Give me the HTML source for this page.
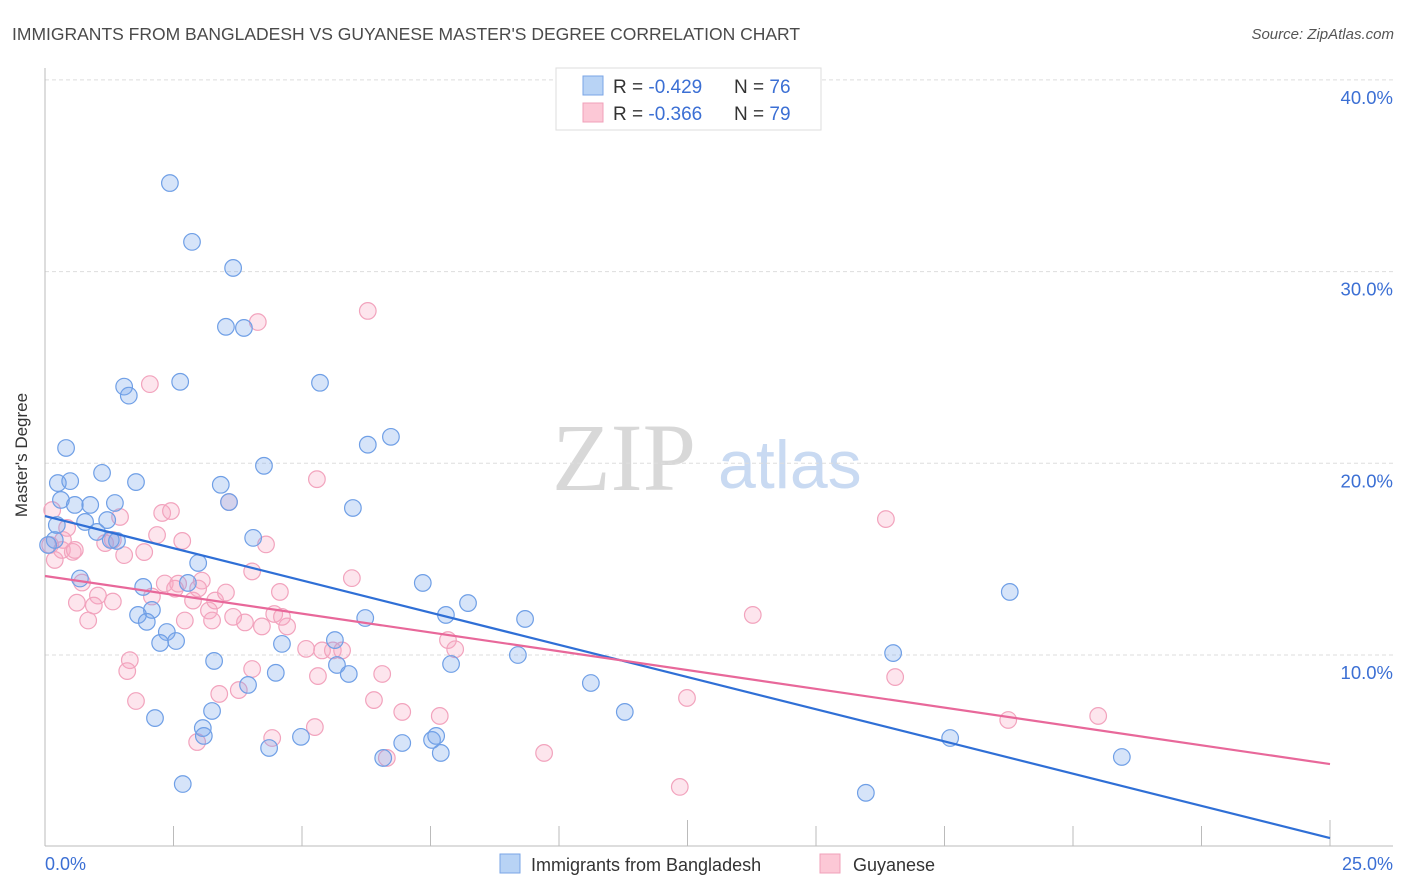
<!DOCTYPE html>
<html><head><meta charset="utf-8"><style>
body{margin:0;background:#fff;font-family:"Liberation Sans",sans-serif}
svg{display:block}
</style></head><body>
<svg id="chart" width="1406" height="892">
<text x="12" y="40" font-size="17.5" fill="#4a4a4a">IMMIGRANTS FROM BANGLADESH VS GUYANESE MASTER'S DEGREE CORRELATION CHART</text>
<text x="1394" y="39" font-size="15" fill="#555" font-style="italic" text-anchor="end">Source: ZipAtlas.com</text>
<g>
<text x="552" y="490" font-size="96" fill="#d8d8d8" font-family="Liberation Serif,serif">ZIP</text>
<text x="718" y="488" font-size="68" fill="#c9daf2">atlas</text>
</g>
<g id="grid"></g>
<line x1="45" y1="68" x2="45" y2="846" stroke="#bbb"/>
<line x1="45" y1="846" x2="1393" y2="846" stroke="#bbb"/>
<text x="27" y="455" font-size="17" fill="#333" text-anchor="middle" transform="rotate(-90 27 455)">Master's Degree</text>
<text x="45" y="870" font-size="18" fill="#3b6fd4">0.0%</text>
<text x="1393" y="870" font-size="18" fill="#3b6fd4" text-anchor="end">25.0%</text>
<g id="marks"></g>
<g>
<rect x="556" y="68" width="265" height="62" fill="#fff" stroke="#ddd"/>
<rect x="583" y="76" width="20" height="19" fill="#b8d3f5" stroke="#7aa5e6"/>
<rect x="583" y="103" width="20" height="19" fill="#fcc8d6" stroke="#f0a0ba"/>
<text x="613" y="93" font-size="19" fill="#333">R = <tspan fill="#3b6fd4">-0.429</tspan><tspan x="734">N = </tspan><tspan fill="#3b6fd4">76</tspan></text>
<text x="613" y="120" font-size="19" fill="#333">R = <tspan fill="#3b6fd4">-0.366</tspan><tspan x="734">N = </tspan><tspan fill="#3b6fd4">79</tspan></text>
</g>
<g>
<rect x="500" y="854" width="20" height="19" fill="#b8d3f5" stroke="#7aa5e6"/>
<text x="531" y="871" font-size="18" fill="#333">Immigrants from Bangladesh</text>
<rect x="820" y="854" width="20" height="19" fill="#fcc8d6" stroke="#f0a0ba"/>
<text x="853" y="871" font-size="18" fill="#333">Guyanese</text>
</g>
</svg>
<script>
const yTicks=[10,20,30,40];
const yTickLabels=["10.0%","20.0%","30.0%","40.0%"];
const xTicks=[0,2.5,5,7.5,10,12.5,15,17.5,20,22.5,25];
const blueX=[0.23,0.19,0.25,0.49,0.41,0.31,0.58,0.88,1.11,0.78,1.21,1.36,1.40,1.01,1.77,0.68,1.54,1.63,2.43,2.86,3.66,3.52,3.87,2.63,5.35,6.73,6.28,4.26,3.42,3.58,5.99,4.05,2.98,1.91,2.78,2.08,1.81,1.98,2.37,2.24,2.55,3.29,3.95,4.49,4.61,5.64,5.68,5.91,6.23,7.35,7.80,8.23,9.34,9.20,7.90,10.62,11.28,3.25,2.14,3.07,3.09,4.36,4.98,6.95,6.58,7.53,7.61,7.70,2.68,15.97,16.50,18.77,17.61,20.95,1.28,0.06];
const blueY=[16.78,16.0,18.97,19.07,20.8,18.09,17.83,17.83,19.5,16.94,17.04,17.93,15.95,16.42,19.02,13.99,24.0,23.53,34.62,31.55,30.19,27.12,27.06,24.25,24.2,21.38,20.97,19.87,18.88,17.98,17.67,16.11,14.8,13.55,13.76,12.35,12.09,11.73,11.2,10.63,10.73,9.69,8.44,9.07,10.58,10.78,9.48,9.01,11.93,13.76,12.09,12.71,11.88,10.0,9.53,8.54,7.03,7.08,6.71,6.19,5.78,5.15,5.73,5.41,4.63,5.57,5.78,4.89,3.27,2.81,10.1,13.29,5.67,4.68,16.0,15.74];
const pinkX=[0.14,0.10,0.19,0.43,0.33,0.54,0.35,0.58,1.17,1.32,1.46,1.54,1.93,2.18,2.28,2.45,2.67,3.58,0.72,0.62,0.84,1.03,0.95,1.32,1.65,1.60,1.77,2.33,2.08,2.53,2.59,2.72,2.88,3.05,2.98,3.19,3.25,3.31,3.52,3.89,4.03,4.30,4.22,4.57,4.46,4.71,5.08,5.29,5.39,5.60,5.78,5.97,5.31,4.03,3.77,3.39,2.96,4.42,5.25,6.40,6.56,6.95,7.68,7.84,7.98,6.65,9.71,12.35,12.49,13.77,16.36,16.54,18.74,20.49,6.28,4.14,2.04,4.61,3.66];
const pinkY=[17.56,15.74,14.96,16.63,15.48,15.38,16.0,15.48,15.84,16.0,17.2,15.21,15.37,16.26,17.41,17.51,15.95,17.98,13.78,12.73,11.8,13.1,12.58,12.79,9.73,9.16,7.6,13.73,13.05,13.46,13.72,11.8,12.84,13.88,13.47,12.32,11.8,12.84,13.26,11.7,14.36,15.77,11.49,13.29,12.14,11.49,10.32,19.17,10.24,10.24,10.24,14.01,8.9,9.27,8.17,7.97,5.46,5.67,6.24,7.65,9.01,7.03,6.82,10.78,10.3,4.63,4.89,3.12,7.76,12.09,17.09,8.85,6.61,6.82,27.95,27.37,24.13,11.99,11.99];
const blueTrend=[17.25,0.45];
const pinkTrend=[14.12,4.31];
const NS="http://www.w3.org/2000/svg";
const xs=v=>45+v*51.4;
const ys=v=>846.7-v*19.17;
const grid=document.getElementById('grid');
const marks=document.getElementById('marks');
function mk(tag,attrs,parent){const e=document.createElementNS(NS,tag);for(const k in attrs)e.setAttribute(k,attrs[k]);parent.appendChild(e);return e;}
yTicks.forEach((t,i)=>{
 const l=mk('line',{x1:45,x2:1393,y1:ys(t),y2:ys(t),stroke:'#ddd','stroke-dasharray':'4,3'},grid);
 
 
 const tx=mk('text',{x:1393,y:ys(t)+24,'font-size':18.5,fill:'#3b6fd4','text-anchor':'end'},grid);
 tx.textContent=yTickLabels[i];
 
 
});
xTicks.forEach((t,i)=>{
 const big=(i===5||i===10);
 const l=mk('line',{x1:xs(t),x2:xs(t),y1:big?820:826,y2:846,stroke:'#bbb'},grid);
 
 
});
function pts(X,Y,fill,stroke,name){
 X.forEach((x,i)=>{
  const c=mk('circle',{cx:xs(x),cy:ys(Y[i]),r:8.3,fill:fill,stroke:stroke,'stroke-width':1.2},marks);
  
  
 });
}
pts(pinkX,pinkY,'rgba(248,170,195,0.3)','#f2a3bd','guyanese-point');
pts(blueX,blueY,'rgba(120,165,235,0.3)','#6f9fe6','bangladesh-point');
const bl=mk('line',{x1:xs(0),y1:ys(blueTrend[0]),x2:xs(25),y2:ys(blueTrend[1]),stroke:'#2f6fd6','stroke-width':2.2},marks);


const pl=mk('line',{x1:xs(0),y1:ys(pinkTrend[0]),x2:xs(25),y2:ys(pinkTrend[1]),stroke:'#e8689a','stroke-width':2.2},marks);


</script>
</body></html>
